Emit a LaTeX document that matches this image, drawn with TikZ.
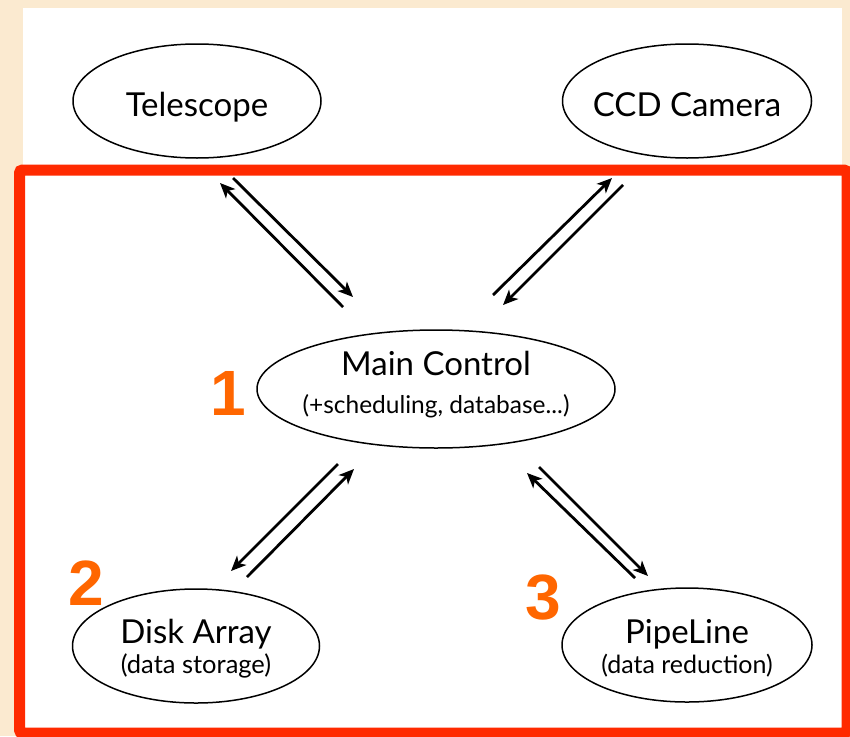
\documentclass[tikz,border=0pt]{standalone}
\usepackage{fontspec}
\setmainfont{Lato}
\newfontfamily\numfont{Liberation Sans}
\usetikzlibrary{shapes.geometric,arrows.meta}
\definecolor{parch}{HTML}{FBEAD0}
\definecolor{boxred}{HTML}{FF2A00}
\definecolor{numorange}{HTML}{FF6600}
\tikzset{
  oval/.style={ellipse, draw=black, line width=1.5pt, fill=white, inner sep=0pt},
  bigt/.style={font=\fontsize{33}{36}\selectfont, inner sep=0pt, anchor=base},
  smallt/.style={font=\fontsize{25}{30}\selectfont, inner sep=0pt, anchor=base},
  numlbl/.style={font=\numfont\bfseries\fontsize{64}{64}\selectfont, text=numorange, inner sep=0pt},
  flow/.style={line width=2.8pt, -{Stealth[length=15pt,width=13pt,inset=4pt]}}
}
\begin{document}
\begin{tikzpicture}[x=1pt,y=-1pt]
\useasboundingbox (0,0) rectangle (850,736);
\fill[parch] (0,0) rectangle (850,736);
\fill[white] (23,8) rectangle (842,736);
% ellipses
\node[oval, minimum width=248pt, minimum height=114pt] (tel) at (197,101) {};
\node[oval, minimum width=249pt, minimum height=114pt] (ccd) at (687,101) {};
\node[oval, minimum width=358pt, minimum height=118pt] (main) at (436,389) {};
\node[oval, minimum width=247pt, minimum height=114pt] (disk) at (196,646) {};
\node[oval, minimum width=250pt, minimum height=114pt] (pipe) at (687,645) {};
% texts
\node[bigt] (tel-t) at (197,116) {Telescope};
\node[bigt] (ccd-t) at (687,116) {CCD Camera};
\node[bigt] (main-t) at (436,375) {Main Control};
\node[smallt, font=\fontsize{24.5}{30}\selectfont] (main-s) at (436,413) {(+scheduling, database...)};
\node[bigt] (disk-t) at (196,643) {Disk Array};
\node[smallt, font=\fontsize{25.5}{30}\selectfont] (disk-s) at (196,673) {(data storage)};
\node[bigt] (pipe-t) at (687,643) {PipeLine};
\node[smallt] (pipe-s) at (687,673) {(data reduction)};
% red box
\draw[boxred, line width=11pt, rounded corners=3pt] (19.5,170) rectangle (847,733);
% numbers
\node[numlbl] (n1) at (228,393) {1};
\node[numlbl] (n2) at (86,583) {2};
\node[numlbl] (n3) at (543,598) {3};
% arrow end points
\coordinate (a1s) at (343,307); \coordinate (a1e) at (220,183);
\coordinate (a2s) at (233,178); \coordinate (a2e) at (353,297);
\coordinate (b1s) at (493,295); \coordinate (b1e) at (612,178);
\coordinate (b2s) at (623,185); \coordinate (b2e) at (503,305);
\coordinate (c1s) at (338,464); \coordinate (c1e) at (231,571);
\coordinate (c2s) at (247,577); \coordinate (c2e) at (354,469);
\coordinate (d1s) at (635,578); \coordinate (d1e) at (527,473);
\coordinate (d2s) at (539,467); \coordinate (d2e) at (648,576);
\draw[flow] (a1s) -- (a1e);
\draw[flow] (a2s) -- (a2e);
\draw[flow] (b1s) -- (b1e);
\draw[flow] (b2s) -- (b2e);
\draw[flow] (c1s) -- (c1e);
\draw[flow] (c2s) -- (c2e);
\draw[flow] (d1s) -- (d1e);
\draw[flow] (d2s) -- (d2e);
\end{tikzpicture}
\end{document}
